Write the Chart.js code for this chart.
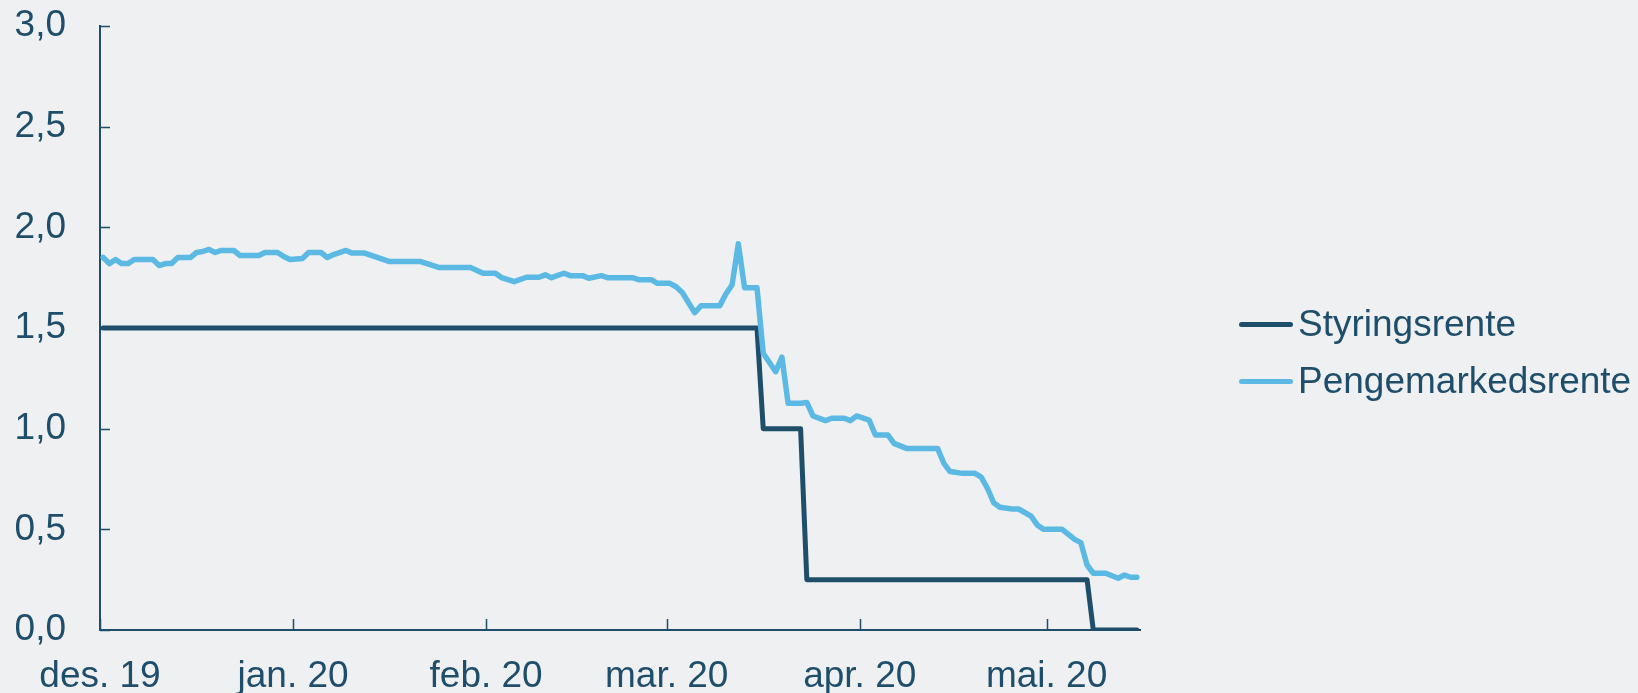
<!DOCTYPE html>
<html lang="no">
<head>
<meta charset="utf-8">
<title>Styringsrente og pengemarkedsrente</title>
<script src="https://cdn.jsdelivr.net/npm/chart.js@4/dist/chart.umd.min.js"></script>
<style>
    html, body { margin: 0; padding: 0; background: #eef0f2; }
    #wrap { position: relative; width: 1638px; height: 693px; }
    #legend { position: absolute; left: 1239px; top: 306px; font-family: "Liberation Sans", Arial, sans-serif; font-size: 37px; color: #1f4e6b; }
    .item { display: flex; align-items: center; height: 36px; line-height: 36px; margin-bottom: 21px; white-space: nowrap; }
    .strek { width: 54px; height: 5px; border-radius: 3px; margin-right: 5px; }
</style>
</head>
<body>
<div id="wrap">
    <canvas id="renteChart"></canvas>
    <div id="legend"></div>
</div>
<script>
// startdato for x-aksen (dag 0)
const startDato = '2019-12-01';

// måneder på x-aksen
const maanedStart = ['2019-12-01', '2020-01-01', '2020-02-01', '2020-03-01', '2020-04-01', '2020-05-01'];
const maanedEtiketter = ['des. 19', 'jan. 20', 'feb. 20', 'mar. 20', 'apr. 20', 'mai. 20'];

// y-akse
const yMin = 0;
const yMax = 3;
const yStep = 0.5;

// Styringsrente (trappetrinn)
const styringDatoer = ['2019-12-01', '2020-03-15', '2020-03-16', '2020-03-22', '2020-03-23', '2020-05-07', '2020-05-08', '2020-05-15'];
const styringsrente = [1.5, 1.5, 1.0, 1.0, 0.25, 0.25, 0, 0];

// Pengemarkedsrente
const pengeDatoer = [
    '2019-12-01', '2019-12-02', '2019-12-03', '2019-12-04', '2019-12-05', '2019-12-06', '2019-12-09', '2019-12-10',
    '2019-12-11', '2019-12-12', '2019-12-13', '2019-12-15', '2019-12-16', '2019-12-17', '2019-12-18', '2019-12-19',
    '2019-12-20', '2019-12-22', '2019-12-23', '2019-12-26', '2019-12-27', '2019-12-29', '2019-12-30', '2019-12-31',
    '2020-01-02', '2020-01-03', '2020-01-05', '2020-01-06', '2020-01-07', '2020-01-09', '2020-01-10', '2020-01-12',
    '2020-01-16', '2020-01-21', '2020-01-24', '2020-01-29', '2020-01-31', '2020-02-02', '2020-02-03', '2020-02-05',
    '2020-02-07', '2020-02-09', '2020-02-10', '2020-02-11', '2020-02-13', '2020-02-14', '2020-02-16', '2020-02-17',
    '2020-02-19', '2020-02-20', '2020-02-24', '2020-02-25', '2020-02-27', '2020-02-28', '2020-03-01', '2020-03-02',
    '2020-03-03', '2020-03-05', '2020-03-06', '2020-03-09', '2020-03-10', '2020-03-11', '2020-03-12', '2020-03-13',
    '2020-03-15', '2020-03-16', '2020-03-18', '2020-03-19', '2020-03-20', '2020-03-22', '2020-03-23', '2020-03-24',
    '2020-03-26', '2020-03-27', '2020-03-29', '2020-03-30', '2020-03-31', '2020-04-02', '2020-04-03', '2020-04-05',
    '2020-04-06', '2020-04-08', '2020-04-13', '2020-04-14', '2020-04-15', '2020-04-17', '2020-04-19', '2020-04-20',
    '2020-04-21', '2020-04-22', '2020-04-23', '2020-04-25', '2020-04-26', '2020-04-28', '2020-04-29', '2020-04-30',
    '2020-05-03', '2020-05-05', '2020-05-06', '2020-05-07', '2020-05-08', '2020-05-10', '2020-05-12', '2020-05-13',
    '2020-05-14', '2020-05-15'
];
const pengemarkedsrente = [
    1.85, 1.82, 1.84, 1.82, 1.82, 1.84, 1.84, 1.81,
    1.82, 1.82, 1.85, 1.85, 1.875, 1.88, 1.89, 1.875,
    1.885, 1.885, 1.86, 1.86, 1.875, 1.875, 1.855, 1.84,
    1.845, 1.875, 1.875, 1.85, 1.865, 1.885, 1.872, 1.872,
    1.83, 1.83, 1.80, 1.80, 1.772, 1.772, 1.75, 1.73,
    1.752, 1.752, 1.764, 1.75, 1.772, 1.76, 1.76, 1.747,
    1.76, 1.75, 1.75, 1.74, 1.74, 1.722, 1.722, 1.705,
    1.676, 1.576, 1.61, 1.61, 1.669, 1.714, 1.918, 1.70,
    1.70, 1.375, 1.283, 1.355, 1.126, 1.126, 1.13, 1.063,
    1.04, 1.052, 1.052, 1.04, 1.063, 1.043, 0.969, 0.969,
    0.927, 0.902, 0.902, 0.828, 0.787, 0.778, 0.778, 0.759,
    0.704, 0.632, 0.61, 0.601, 0.601, 0.566, 0.522, 0.50,
    0.50, 0.45, 0.434, 0.323, 0.282, 0.282, 0.257, 0.273,
    0.262, 0.262
];

const morkBla = '#1f4e6b';
const lysBla = '#5bb9e3';

function dagNr(dato) {
    return Math.round((Date.parse(dato) - Date.parse(startDato)) / 86400000);
}

function punkter(datoer, verdier) {
    return datoer.map((d, i) => ({ x: dagNr(d), y: verdier[i] }));
}

const sisteDag = dagNr(pengeDatoer[pengeDatoer.length - 1]);

// små innovervendte tick-streker
const inneTicks = {
    id: 'inneTicks',
    beforeDatasetsDraw(chart) {
        const { ctx, chartArea, scales } = chart;
        ctx.save();
        ctx.strokeStyle = morkBla;
        ctx.lineWidth = 1.5;
        ctx.beginPath();
        scales.x.ticks.forEach((t, i) => {
            const px = Math.round(scales.x.getPixelForTick(i)) + 0.5;
            ctx.moveTo(px, chartArea.bottom);
            ctx.lineTo(px, chartArea.bottom - 11);
        });
        scales.y.ticks.forEach((t, i) => {
            const py = Math.round(scales.y.getPixelForTick(i)) + 0.5;
            ctx.moveTo(chartArea.left, py);
            ctx.lineTo(chartArea.left + 10, py);
        });
        ctx.stroke();
        ctx.restore();
    }
};

Chart.defaults.font.family = '"Liberation Sans", Arial, sans-serif';
Chart.defaults.font.size = 37;
Chart.defaults.color = morkBla;

const datasett = [
    { label: 'Styringsrente', data: punkter(styringDatoer, styringsrente), color: morkBla, width: 5, order: 1 },
    { label: 'Pengemarkedsrente', data: punkter(pengeDatoer, pengemarkedsrente), color: lysBla, width: 5.5, order: 0 }
];

new Chart(document.getElementById('renteChart'), {
    type: 'line',
    data: {
        datasets: datasett.map(ds => ({
            label: ds.label,
            data: ds.data,
            order: ds.order,
            borderColor: ds.color,
            backgroundColor: ds.color,
            borderWidth: ds.width,
            pointRadius: 0,
            tension: 0,
            borderJoinStyle: 'round',
            borderCapStyle: 'round',
            fill: false
        }))
    },
    options: {
        responsive: true,
        maintainAspectRatio: false,
        animation: false,
        layout: { autoPadding: false, padding: { top: 26, right: 498, left: 0, bottom: 0 } },
        plugins: {
            legend: { display: false },
            tooltip: { enabled: false }
        },
        scales: {
            x: {
                type: 'linear',
                min: -0.5,
                max: sisteDag + 0.5,
                afterFit: s => {
                    s.height = 63;
                    s.paddingLeft = 0;
                    s.paddingRight = 0;
                },
                afterBuildTicks: s => {
                    s.ticks = maanedStart.map(d => ({ value: dagNr(d) - 0.5 }));
                },
                ticks: {
                    autoSkip: false,
                    maxRotation: 0,
                    padding: 25,
                    callback: (v, i) => maanedEtiketter[i]
                },
                grid: { display: false, drawTicks: false },
                border: { color: morkBla, width: 2 }
            },
            y: {
                min: yMin,
                max: yMax,
                afterFit: s => {
                    s.width = 100;
                    s.paddingTop = 0;
                    s.paddingBottom = 0;
                },
                ticks: {
                    stepSize: yStep,
                    padding: 34,
                    callback: v => v.toFixed(1).replace('.', ',')
                },
                grid: { display: false, drawTicks: false },
                border: { color: morkBla, width: 2 }
            }
        }
    },
    plugins: [inneTicks]
});

// forklaring til høyre
const legendDiv = document.getElementById('legend');
datasett.forEach(ds => {
    const item = document.createElement('div');
    item.classList.add('item');
    item.innerHTML = `<span class="strek" style="background:${ds.color}"></span><span>${ds.label}</span>`;
    legendDiv.appendChild(item);
});
</script>
</body>
</html>
